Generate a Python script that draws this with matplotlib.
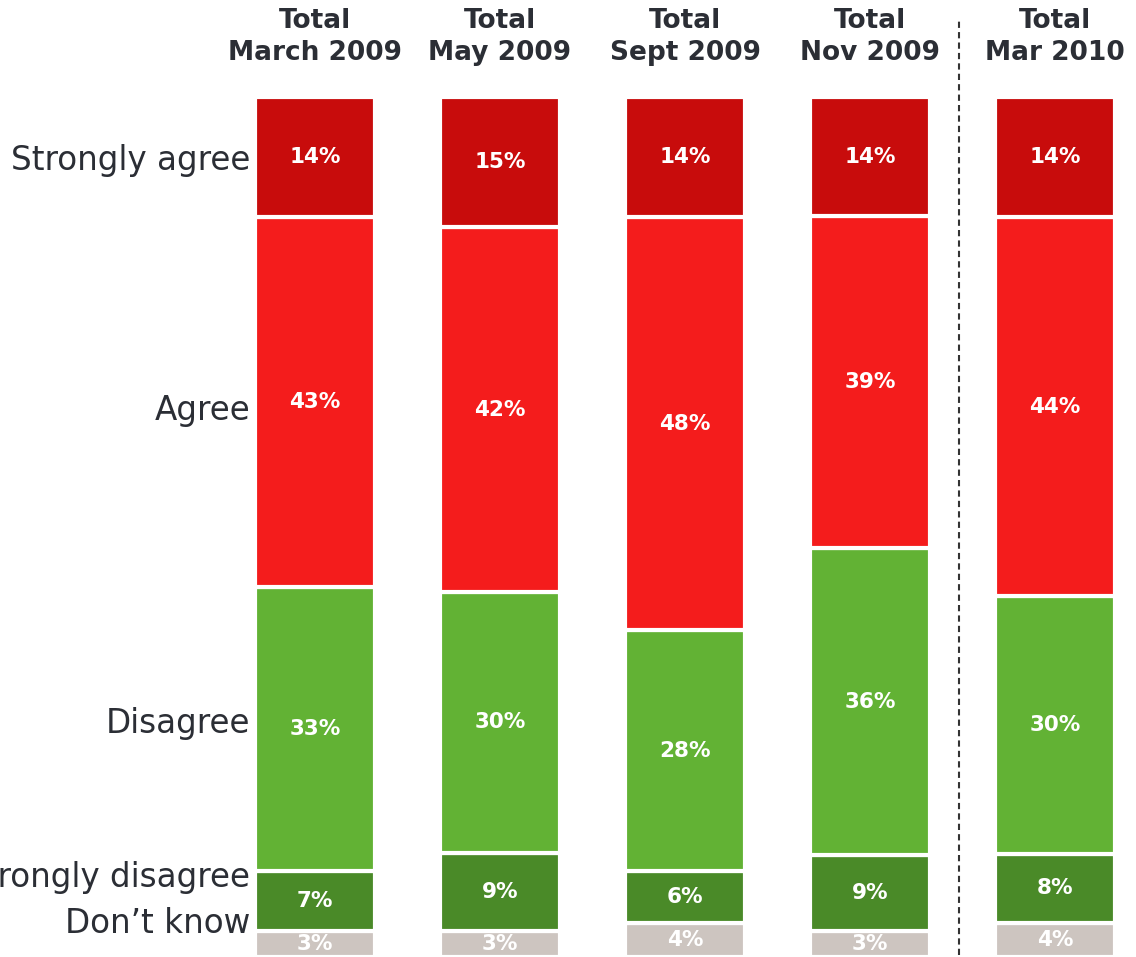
import numpy as np
from matplotlib import pyplot as plt

# Umfragewerte je Welle (Reihenfolge von unten nach oben)
waves = ['Total\nMarch 2009', 'Total\nMay 2009', 'Total\nSept 2009', 'Total\nNov 2009', 'Total\nMar 2010']
categories = ['Don\u2019t know', 'Strongly disagree', 'Disagree', 'Agree', 'Strongly agree']
dont_know = [3, 3, 4, 3, 4]
strongly_disagree = [7, 9, 6, 9, 8]
disagree = [33, 30, 28, 36, 30]
agree = [43, 42, 48, 39, 44]
strongly_agree = [14, 15, 14, 14, 14]

colors = ['#cdc5c0', '#4a8a28', '#62b234', '#f41c1c', '#c80c0c']
text_color = '#2b2e35'

series = np.array([dont_know, strongly_disagree, disagree, agree, strongly_agree], dtype=float)
shares = series / series.sum(axis=0) * 100  # auf 100% normiert, wie im Original

fig = plt.figure(figsize=(11.36, 9.57), dpi=100)
ax = fig.add_axes([0, 0, 1, 1])
x = np.arange(len(waves))

bottom = np.zeros(len(waves))
for i, cat in enumerate(categories):
    ax.bar(x, shares[i], bottom=bottom, width=0.65, color=colors[i],
           edgecolor='white', linewidth=3)
    for xi, b, h, v in zip(x, bottom, shares[i], series[i]):
        ax.text(xi, b + h / 2, f'{int(v)}%', ha='center', va='center',
                color='white', fontsize=15.5, fontweight='bold')
    bottom += shares[i]

# Spaltenueberschriften
for xi, w in zip(x, waves):
    ax.text(xi, 107.0, w, ha='center', va='center', fontsize=19,
            fontweight='bold', color=text_color, linespacing=1.3)

# Zeilenbeschriftung links (haendisch platziert wie im Original)
label_y = [3.84, 9.3, 27.2, 63.6, 92.67]
for cat, yy in zip(categories, label_y):
    ax.text(-0.35, yy, cat, ha='right', va='center', fontsize=23.5, color=text_color)

# gestrichelte Trennlinie vor Mar 2010
ax.plot([3.48, 3.48], [0.2, 108.8], color='#333333', linewidth=1.5,
        linestyle=(0, (3, 2)))

ax.set_xlim(-1.703, 4.438)
ax.set_ylim(0, 111.28)
ax.axis('off')

plt.savefig('out.png', dpi=100)
